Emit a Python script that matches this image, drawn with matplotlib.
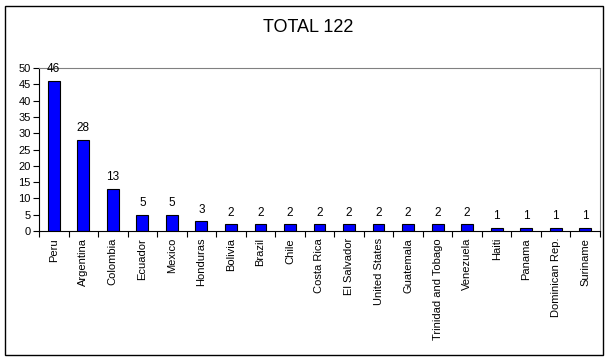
import numpy as np
import matplotlib.pyplot as plt
from matplotlib.patches import Rectangle

plt.rcParams['font.family'] = ['Liberation Sans', 'DejaVu Sans']

countries = ["Peru", "Argentina", "Colombia", "Ecuador", "Mexico", "Honduras",
             "Bolivia", "Brazil", "Chile", "Costa Rica", "El Salvador",
             "United States", "Guatemala", "Trinidad and Tobago", "Venezuela",
             "Haiti", "Panama", "Dominican Rep.", "Suriname"]
counts = [46, 28, 13, 5, 5, 3, 2, 2, 2, 2, 2, 2, 2, 2, 2, 1, 1, 1, 1]
title = "TOTAL 122"

fig = plt.figure(figsize=(6.13, 3.61), dpi=100)
ax = fig.add_axes([39 / 613, 1 - 231 / 361, 561 / 613, 163 / 361])

x = np.arange(len(countries))
ax.bar(x, counts, width=0.4, color="#0000FF", edgecolor="black", linewidth=0.8)
for xi, v in zip(x, counts):
    ax.annotate(str(v), (xi, v), xytext=(0, 4), textcoords="offset points",
                ha="center", va="bottom", fontsize=8.5)

ax.set_xlim(-0.5, len(countries) - 0.5)
ax.set_ylim(0, 50)
ax.set_yticks(range(0, 51, 5))
ax.set_xticks(x)
ax.set_xticklabels(countries, rotation=90, fontsize=8)
ax.set_xticks(np.arange(-0.5, len(countries), 1), minor=True)
ax.tick_params(axis="x", which="major", length=0, pad=5)
ax.tick_params(axis="x", which="minor", length=4, direction="out", width=0.8)
ax.tick_params(axis="y", labelsize=8, length=4, width=0.8, pad=2)

ax.spines["top"].set_color("#808080")
ax.spines["right"].set_color("#808080")
for s in ax.spines.values():
    s.set_linewidth(0.8)

fig.text(308 / 613, 1 - 28 / 361, title, ha="center", va="center", fontsize=13)

fig.patches.append(Rectangle((5 / 613, 6 / 361), 598 / 613, 349 / 361,
                             transform=fig.transFigure, fill=False,
                             edgecolor="black", linewidth=1))

fig.savefig("out.png", dpi=100)
